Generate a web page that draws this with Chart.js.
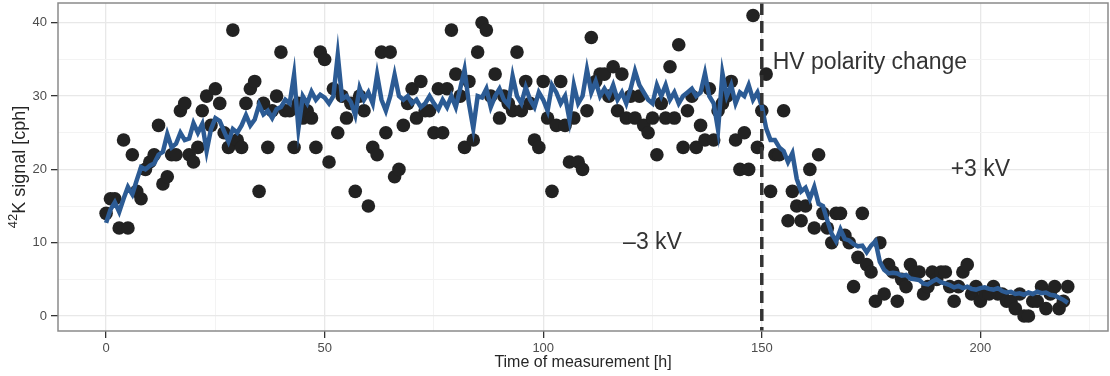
<!DOCTYPE html>
<html>
<head>
<meta charset="utf-8">
<script src="https://cdn.jsdelivr.net/npm/chart.js@4.4.1/dist/chart.umd.min.js"></script>
<style>
  html, body { margin: 0; padding: 0; background: #fff; }
  #wrap { width: 1110px; height: 376px; }
</style>
</head>
<body>
<div id="wrap"><canvas id="signal"></canvas></div>
<script>
// hourly 42K count rate, measured every hour from 0 to 220 h
const counts = [
  14, 16, 16, 12, 24, 12, 22, 17, 16, 20,
  21, 22, 26, 18, 19, 22, 22, 28, 29, 22,
  21, 23, 28, 30, 26, 31, 29, 25, 23, 39,
  24, 23, 29, 31, 32, 17, 29, 23, 28, 30,
  36, 28, 28, 23, 29, 27, 28, 27, 23, 36,
  35, 21, 31, 25, 30, 27, 29, 17, 30, 28,
  15, 23, 22, 36, 25, 36, 19, 20, 26, 29,
  31, 27, 32, 28, 28, 25, 31, 25, 31, 39,
  33, 30, 23, 32, 24, 36, 40, 39, 30, 33,
  27, 30, 29, 28, 36, 28, 32, 29, 24, 23,
  32, 27, 17, 26, 32, 26, 21, 27, 21, 20,
  28, 38, 32, 33, 33, 30, 34, 28, 33, 27,
  30, 27, 30, 26, 25, 27, 22, 29, 27, 34,
  27, 37, 23, 28, 30, 23, 26, 24, 31, 24,
  28, 29, 30, 32, 24, 20, 25, 20, 41, 23,
  28, 33, 17, 22, 22, 28, 13, 17, 15, 13,
  15, 20, 12, 22, 14, 12, 10, 14, 14, 11,
  10, 4, 8, 14, 7, 6, 2, 10, 3, 7,
  6, 2, 5, 4, 7, 6, 6, 3, 4, 6,
  5, 6, 6, 4, 2, 4, 6, 7, 3, 4,
  2, 3, 3, 4, 3, 3, 2, 2, 1, 3,
  0, 0, 2, 2, 4, 1, 3, 4, 1, 2,
  4
];

// model curve, same hourly grid
const model = [
  12.7, 14.5, 15.5, 14.2, 16.0, 17.6, 16.6, 18.5, 20.3, 20.0,
  20.5, 20.8, 22.0, 22.4, 24.8, 23.0, 23.5, 25.0, 24.0, 24.2,
  26.3, 25.0, 26.2, 22.5, 25.5, 27.0, 26.6, 25.2, 23.8, 25.5,
  25.0, 26.0, 27.4, 26.0, 26.8, 28.8, 27.5, 28.0, 27.0, 28.2,
  28.5, 29.5, 29.0, 32.9, 25.6, 30.0, 29.0, 30.6, 29.5, 30.2,
  29.8, 29.0, 30.0, 35.6, 29.6, 30.0, 29.2, 27.4, 31.1, 29.5,
  30.5, 29.0, 32.9, 29.5, 28.0, 30.0, 32.9, 30.0, 29.5, 30.0,
  29.0, 29.5, 28.5, 29.0, 30.0, 29.0, 28.2, 29.5, 28.5, 30.0,
  28.5, 31.0, 33.6, 29.0, 25.6, 30.0, 29.8, 31.0, 28.5, 30.0,
  31.0, 29.5, 28.8, 32.7, 30.0, 29.0, 31.2, 29.5, 28.5, 30.5,
  29.5, 28.0, 31.5, 30.5, 29.0, 30.0, 26.8, 31.5, 29.0, 30.0,
  33.6, 30.5, 32.0, 30.0, 31.0, 30.0, 31.5, 29.5, 30.5, 29.0,
  31.0, 33.4, 31.5, 30.5, 29.5, 29.0, 31.5, 30.0, 31.5, 29.5,
  30.5, 29.0, 30.0, 30.5, 31.0, 30.0, 30.5, 33.1, 30.0, 29.0,
  25.4, 33.1, 30.0, 31.5, 29.0, 30.5, 30.0, 31.5, 29.5, 30.5,
  28.6, 25.6, 24.0, 24.0, 23.0, 22.5, 21.0, 22.2, 18.7, 17.0,
  17.5, 16.0, 17.6, 15.3, 15.0, 13.0, 11.2, 10.2, 11.8, 10.5,
  10.3, 9.8, 9.5, 9.6, 8.7, 9.6, 10.2, 7.4, 6.3, 5.8,
  5.9, 5.8, 5.5, 5.6, 5.1, 5.0, 4.9, 4.4, 4.3, 4.7,
  5.0, 4.6, 4.4, 4.2, 3.9, 4.1, 3.8, 4.0, 3.7, 3.6,
  3.8, 3.9, 3.7, 3.6, 3.8, 3.4, 3.2, 3.3, 3.0, 3.1,
  2.9, 3.2, 3.0, 3.3, 3.1, 3.2, 2.9, 2.8, 2.5, 2.2,
  1.8
];

const xMajor = [0, 50, 100, 150, 200];
const xMinor = [25, 75, 125, 175, 225];
const yMajor = [0, 10, 20, 30, 40];
const yMinor = [5, 15, 25, 35];

const switchHour = 150;
const noteText = ['HV polarity change', '\u20133 kV', '+3 kV'];
const noteX = [152.5, 125, 200];
const noteY = [34.6, 10, 20];
const noteAlign = ['left', 'center', 'center'];

const FONT = '"Liberation Sans", Arial, Helvetica, sans-serif';

const pts = counts.map((c, h) => ({ x: h, y: c }));
const curve = model.map((m, h) => ({ x: h, y: m }));

function gridTicks(major, minor) {
  return s => {
    s.ticks = major.concat(minor).sort((a, b) => a - b).map(v => ({ value: v }));
  };
}

function gridStyle(minor) {
  return {
    color: c => minor.includes(c.tick.value) ? '#f3f3f3' : '#e8e8e8',
    lineWidth: c => minor.includes(c.tick.value) ? 1 : 1.3,
    tickColor: c => minor.includes(c.tick.value) ? 'rgba(0,0,0,0)' : '#333',
    tickLength: 7,
    drawTicks: true
  };
}

// keep the panel edges fixed, no room reserved for overhanging labels
function fixBox(size, horizontal) {
  return s => {
    if (horizontal) s.height = size; else s.width = size;
    s.paddingTop = 0;
    s.paddingBottom = 0;
    s.paddingLeft = 0;
    s.paddingRight = 0;
  };
}

const panel = {
  id: 'panel',
  afterDatasetsDraw(chart) {
    const { ctx, chartArea: a, scales: { x, y } } = chart;
    ctx.save();

    // polarity switch marker
    const px = x.getPixelForValue(switchHour);
    ctx.strokeStyle = '#333';
    ctx.lineWidth = 3.5;
    ctx.setLineDash([12, 6]);
    ctx.beginPath();
    ctx.moveTo(px, a.top);
    ctx.lineTo(px, a.bottom);
    ctx.stroke();
    ctx.setLineDash([]);

    ctx.font = '23px ' + FONT;
    ctx.fillStyle = '#333';
    ctx.textBaseline = 'middle';
    noteText.forEach((t, i) => {
      ctx.textAlign = noteAlign[i];
      ctx.fillText(t, x.getPixelForValue(noteX[i]), y.getPixelForValue(noteY[i]));
    });

    ctx.strokeStyle = '#8a8a8a';
    ctx.lineWidth = 1.5;
    ctx.strokeRect(a.left, a.top, a.width, a.height);
    ctx.restore();
  },
  afterDraw(chart) {
    // y title with superscript mass number
    const { ctx, chartArea: a } = chart;
    const sup = '42', main = 'K signal [cph]';
    ctx.save();
    ctx.fillStyle = '#262626';
    ctx.font = '13px ' + FONT;
    const wSup = ctx.measureText(sup).width;
    ctx.font = '18px ' + FONT;
    const wMain = ctx.measureText(main).width;
    ctx.translate(18, (a.top + a.bottom) / 2);
    ctx.rotate(-Math.PI / 2);
    const x0 = -(wSup + wMain) / 2;
    ctx.textAlign = 'left';
    ctx.textBaseline = 'alphabetic';
    ctx.fillText(main, x0 + wSup, 6.5);
    ctx.font = '13px ' + FONT;
    ctx.fillText(sup, x0, -1);
    ctx.restore();
  }
};

new Chart(document.getElementById('signal'), {
  type: 'scatter',
  data: {
    datasets: [
      {
        data: curve,
        showLine: true,
        borderColor: '#2c5b94',
        borderWidth: 4.5,
        pointRadius: 0,
        tension: 0,
        order: 0
      },
      {
        data: pts,
        backgroundColor: '#222',
        borderWidth: 0,
        pointRadius: 6.8,
        order: 1
      }
    ]
  },
  options: {
    responsive: true,
    maintainAspectRatio: false,
    animation: false,
    devicePixelRatio: 1,
    layout: { autoPadding: false, padding: { top: 3, right: 2, left: 0, bottom: 0 } },
    plugins: { legend: { display: false }, tooltip: { enabled: false } },
    scales: {
      x: {
        type: 'linear',
        min: -11,
        max: 229.2,
        afterBuildTicks: gridTicks(xMajor, xMinor),
        afterFit: fixBox(45, true),
        grid: gridStyle(xMinor),
        border: { display: false },
        ticks: {
          autoSkip: false,
          maxRotation: 0,
          padding: 3,
          color: '#4d4d4d',
          font: { family: FONT, size: 13 },
          callback: v => xMajor.includes(v) ? String(v) : ''
        },
        title: {
          display: true,
          text: 'Time of measurement [h]',
          color: '#262626',
          font: { family: FONT, size: 16 },
          padding: { top: 0, bottom: 4 }
        }
      },
      y: {
        type: 'linear',
        min: -2.05,
        max: 42.7,
        afterBuildTicks: gridTicks(yMajor, yMinor),
        afterFit: fixBox(58, false),
        grid: gridStyle(yMinor),
        border: { display: false },
        ticks: {
          autoSkip: false,
          padding: 4,
          color: '#4d4d4d',
          font: { family: FONT, size: 13 },
          callback: v => yMajor.includes(v) ? String(v) : ''
        }
      }
    }
  },
  plugins: [panel]
});
</script>
</body>
</html>
